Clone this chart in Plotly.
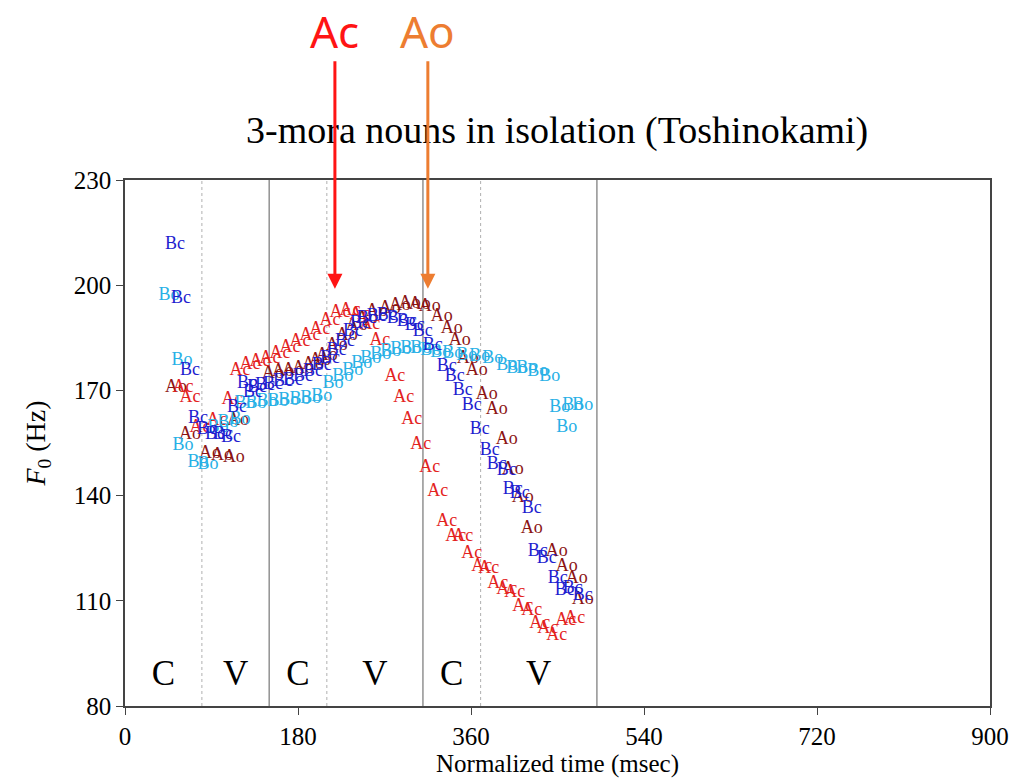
import plotly.graph_objects as go

# ---------------- data (ms, Hz) ----------------
ac_t = [60.3, 67.6, 78.0, 95.7, 111.3, 119.6, 130.0, 140.4, 150.8, 161.2, 171.6, 182.0, 192.4, 202.8,
        213.2, 223.6, 234.0, 244.4, 254.8, 265.2, 280.8, 290.1, 298.4, 307.8, 317.1, 325.5, 334.8,
        344.2, 351.5, 360.8, 371.2, 378.5, 387.9, 397.2, 405.5, 413.8, 423.2, 431.5, 439.8, 449.2,
        458.6, 467.9]
ac_f = [170.7, 167.9, 159.4, 161.4, 167.3, 175.8, 177.5, 178.3, 179.2, 180.6, 182.3, 184.0, 185.7, 187.4,
        189.9, 192.2, 192.7, 191.6, 188.8, 184.2, 174.1, 167.9, 161.6, 154.6, 148.1, 141.3, 132.5,
        128.3, 128.3, 123.5, 119.8, 119.3, 115.0, 113.3, 112.5, 108.5, 107.1, 103.4, 102.0, 100.1,
        104.3, 104.9]

ao_t = [53.0, 67.6, 88.4, 100.9, 113.3, 117.5, 153.9, 164.3, 174.7, 185.1, 195.5, 202.8, 210.0, 220.4,
        230.8, 241.2, 251.6, 262.0, 275.5, 286.0, 296.3, 306.7, 317.1, 329.6, 340.0, 348.3, 356.7,
        366.0, 376.4, 386.8, 397.2, 403.4, 413.8, 423.2, 449.2, 459.6, 470.0, 476.2]
ao_f = [170.7, 157.4, 152.0, 151.5, 150.9, 161.4, 174.9, 175.5, 175.8, 176.3, 177.5, 178.6, 180.0, 182.8,
        185.7, 188.5, 190.5, 192.4, 193.3, 194.1, 194.7, 194.4, 193.8, 191.0, 187.6, 184.2, 179.2,
        175.8, 168.7, 164.5, 156.0, 147.5, 139.6, 130.6, 124.1, 119.8, 116.4, 110.5]

bc_t = [52.0, 58.2, 67.6, 75.9, 85.3, 93.6, 101.9, 110.2, 116.5, 133.1, 126.9, 137.3, 145.6, 153.9,
        164.3, 174.7, 185.1, 195.5, 204.8, 213.2, 220.4, 228.8, 237.1, 244.4, 251.6, 262.0, 272.4,
        282.8, 293.2, 301.5, 309.9, 320.3, 334.8, 343.1, 351.5, 360.8, 369.1, 379.5, 386.8, 397.2,
        403.4, 410.7, 423.2, 429.4, 438.8, 450.2, 457.5, 465.8, 476.2]
bc_f = [211.6, 196.1, 175.8, 161.9, 158.8, 157.4, 157.4, 156.6, 165.0, 169.3, 172.1, 170.7, 171.5, 171.8,
        172.4, 172.9, 174.1, 175.5, 177.2, 179.2, 181.4, 184.0, 186.8, 189.0, 190.5, 191.0, 191.3,
        190.5, 189.6, 188.5, 186.8, 182.8, 176.9, 174.1, 170.1, 165.6, 158.8, 152.9, 148.9, 147.2,
        141.6, 140.7, 136.2, 124.1, 122.1, 116.4, 112.8, 113.6, 111.4]

bo_t = [45.8, 59.3, 60.3, 75.9, 86.3, 96.7, 107.1, 119.6, 124.8, 136.2, 147.7, 159.1, 170.5, 182.0,
        193.4, 204.8, 216.3, 226.7, 237.1, 246.4, 255.8, 266.2, 276.6, 287.0, 297.4, 307.8, 318.2,
        328.6, 341.1, 355.6, 369.1, 382.6, 397.2, 407.6, 418.0, 429.4, 441.9, 452.3, 465.8, 476.2,
        459.6]
bo_f = [197.0, 178.6, 154.3, 149.5, 148.9, 159.4, 160.8, 161.6, 166.4, 166.4, 166.7, 166.7, 167.0, 167.3,
        167.6, 168.4, 172.1, 174.1, 175.8, 177.7, 179.2, 180.3, 181.1, 181.7, 182.0, 182.0, 181.4,
        180.9, 180.6, 180.0, 179.7, 179.2, 177.2, 176.3, 176.3, 175.5, 174.1, 165.0, 165.6, 165.6,
        159.4]

series_names = ["Ao", "Ac", "Bo", "Bc"]
series_colors = ["#8b1414", "#e3221e", "#27b0e6", "#1e1ecf"]

boundaries = [80, 150, 210, 310, 370, 491]
boundary_styles = ["dot", "solid", "dot", "solid", "dot", "solid"]
seg_labels = ["C", "V", "C", "V", "C", "V"]
seg_centers = [40, 115, 180, 260, 340, 430.5]
seg_label_y = 88.4

arrow_labels = ["Ac", "Ao"]
arrow_x = [218.4, 315.1]
arrow_y = 199.0
arrow_colors = ["#ff1414", "#ed7d31"]

x_ticks = [0, 180, 360, 540, 720, 900]
y_ticks = [80, 110, 140, 170, 200, 230]

SERIF = "Times New Roman, Liberation Serif, serif"

fig = go.Figure()
data_map = {"Ac": (ac_t, ac_f), "Ao": (ao_t, ao_f), "Bc": (bc_t, bc_f), "Bo": (bo_t, bo_f)}
for name, col in zip(series_names, series_colors):
    t, f = data_map[name]
    fig.add_trace(go.Scatter(
        x=t, y=f, mode="text", text=[name] * len(t), name=name,
        textposition="middle center",
        textfont=dict(family=SERIF, size=18, color=col),
        showlegend=False, cliponaxis=False))

# segment labels
fig.add_trace(go.Scatter(
    x=seg_centers, y=[seg_label_y] * len(seg_centers), mode="text", text=seg_labels,
    textposition="middle center", textfont=dict(family=SERIF, size=35, color="black"),
    showlegend=False))

shapes = []
for b, st in zip(boundaries, boundary_styles):
    if st == "dot":
        shapes.append(dict(type="line", xref="x", yref="paper", x0=b, x1=b, y0=0, y1=1,
                           line=dict(color="#b0b0b0", width=1, dash="dot"), layer="below"))
    else:
        shapes.append(dict(type="line", xref="x", yref="paper", x0=b, x1=b, y0=0, y1=1,
                           line=dict(color="#808080", width=1.3), layer="below"))

annotations = []
for lab, ax_, col in zip(arrow_labels, arrow_x, arrow_colors):
    annotations.append(dict(
        x=ax_, y=arrow_y, xref="x", yref="y", text=lab, showarrow=True,
        ax=0, ay=-258, arrowhead=2, arrowsize=1.0, arrowwidth=3, arrowcolor=col,
        font=dict(family="Noto Sans, Open Sans, sans-serif", size=44, color=col),
        borderpad=0))

fig.update_layout(
    width=1029, height=781,
    margin=dict(l=125, r=39, t=180, b=70),
    paper_bgcolor="white", plot_bgcolor="white",
    shapes=shapes, annotations=annotations,
    title=dict(text="3-mora nouns in isolation (Toshinokami)", x=0.5415, xanchor="center",
               y=1 - 130 / 781, yanchor="middle",
               font=dict(family=SERIF, size=38, color="black")),
    xaxis=dict(range=[0, 900], tickvals=x_ticks, ticks="outside", ticklen=7, tickwidth=1.3,
               tickcolor="#444", showline=True, linecolor="#444", linewidth=1.5, mirror=True,
               showgrid=False, zeroline=False,
               tickfont=dict(family=SERIF, size=25, color="black"),
               title=dict(text="Normalized time (msec)", standoff=2,
                          font=dict(family=SERIF, size=25, color="black"))),
    yaxis=dict(range=[80, 230], tickvals=y_ticks, ticks="outside", ticklen=7, tickwidth=1.3,
               tickcolor="#444", showline=True, linecolor="#444", linewidth=1.5, mirror=True,
               showgrid=False, zeroline=False,
               tickfont=dict(family=SERIF, size=25, color="black"),
               title=dict(text="<i>F</i><sub>0</sub> (Hz)", standoff=20,
                          font=dict(family=SERIF, size=28, color="black"))),
)

fig.write_html("out.html")
